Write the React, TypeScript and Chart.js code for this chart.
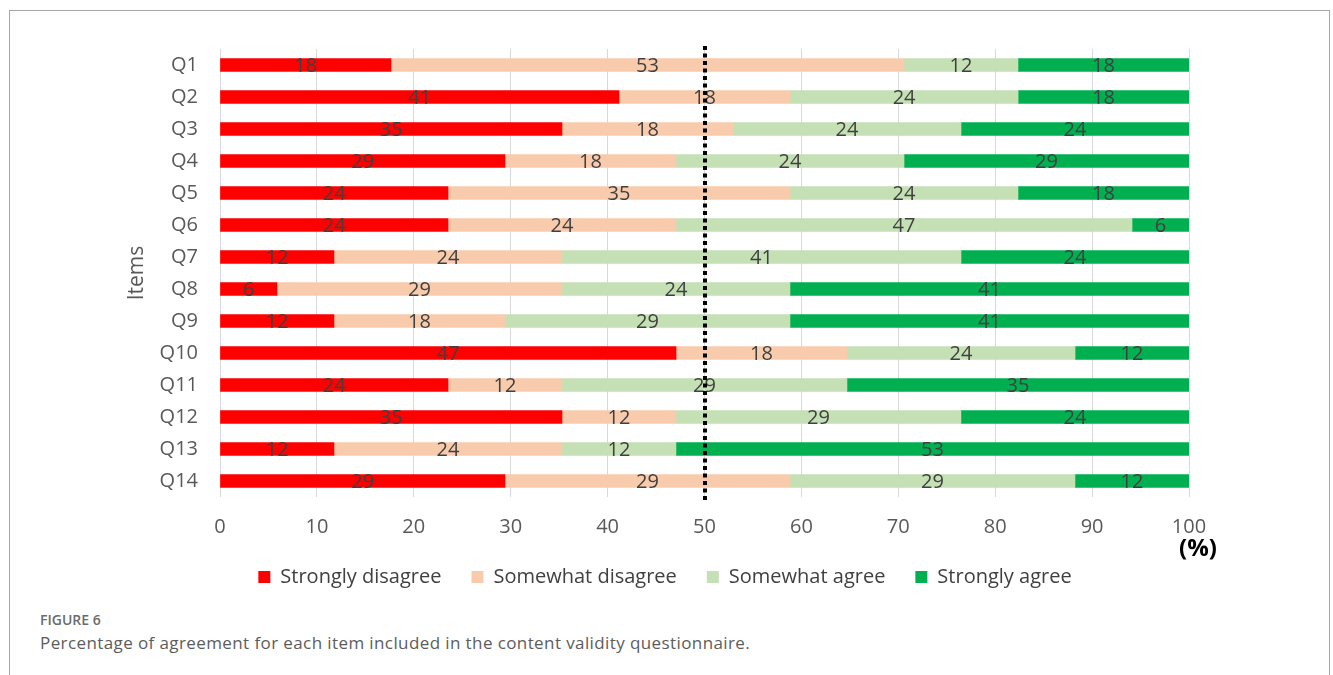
import React, { useEffect, useRef } from "react";
import { Chart, registerables } from "chart.js";

Chart.register(...registerables);

// Questionnaire items (rows, top to bottom)
const items = ["Q1", "Q2", "Q3", "Q4", "Q5", "Q6", "Q7", "Q8", "Q9", "Q10", "Q11", "Q12", "Q13", "Q14"];

// Percentage of raters per answer (17 raters)
const stronglyDisagree = [17.65, 41.18, 35.29, 29.41, 23.53, 23.53, 11.76, 5.88, 11.76, 47.06, 23.53, 35.29, 11.76, 29.41];
const somewhatDisagree = [52.94, 17.65, 17.65, 17.65, 35.29, 23.53, 23.53, 29.41, 17.65, 17.65, 11.76, 11.76, 23.53, 29.41];
const somewhatAgree = [11.76, 23.53, 23.53, 23.53, 23.53, 47.06, 41.18, 23.53, 29.41, 23.53, 29.41, 29.41, 11.76, 29.41];
const stronglyAgree = [17.65, 17.65, 23.53, 29.41, 17.65, 5.88, 23.53, 41.18, 41.18, 11.76, 35.29, 23.53, 52.94, 11.76];

const seriesNames = ["Strongly disagree", "Somewhat disagree", "Somewhat agree", "Strongly agree"];
const seriesColors = ["#FF0000", "#F8CBAD", "#C5E0B4", "#00B050"];

const xMin = 0;
const xMax = 100;
const xStep = 10;
const midValue = 50;

const fontFamily = "'Open Sans', 'Noto Sans', sans-serif";

// Rounded value written in the middle of each segment
const segmentLabels = {
  id: "segmentLabels",
  afterDatasetsDraw(chart: any) {
    const ctx = chart.ctx;
    ctx.save();
    ctx.font = `20px ${fontFamily}`;
    ctx.fillStyle = "#404040";
    ctx.textAlign = "center";
    ctx.textBaseline = "middle";
    chart.data.datasets.forEach((ds: any, di: number) => {
      const meta = chart.getDatasetMeta(di);
      if (meta.hidden) return;
      meta.data.forEach((bar: any, i: number) => {
        const { x, base, y } = bar.getProps(["x", "base", "y"], true);
        const v = ds.data[i];
        ctx.fillText(String(Math.round(v)), (x + base) / 2, y + 1);
      });
    });
    ctx.restore();
  },
};

// Dotted reference line at the midpoint, plus axis captions
const midLineAndCaptions = {
  id: "midLineAndCaptions",
  afterDraw(chart: any) {
    const ctx = chart.ctx;
    const xs = chart.scales.x;
    const area = chart.chartArea;
    const px = Math.round(xs.getPixelForValue(midValue));
    ctx.save();
    ctx.strokeStyle = "#000000";
    ctx.lineWidth = 4;
    ctx.setLineDash([4, 3.5]);
    ctx.beginPath();
    ctx.moveTo(px, area.top - 3);
    ctx.lineTo(px, area.bottom + 4);
    ctx.stroke();
    ctx.restore();

    ctx.save();
    ctx.fillStyle = "#595959";
    ctx.font = `21px ${fontFamily}`;
    ctx.textAlign = "center";
    ctx.textBaseline = "middle";
    ctx.translate(137, (area.top + area.bottom) / 2);
    ctx.rotate(-Math.PI / 2);
    ctx.fillText("Items", 0, 0);
    ctx.restore();

    ctx.save();
    ctx.fillStyle = "#000000";
    ctx.font = `bold 24px ${fontFamily}`;
    ctx.textAlign = "center";
    ctx.textBaseline = "middle";
    ctx.fillText("(%)", xs.getPixelForValue(xMax) + 9, area.bottom + 52);
    ctx.restore();
  },
};

export default function App() {
  const canvasRef = useRef<HTMLCanvasElement | null>(null);

  useEffect(() => {
    const canvas = canvasRef.current;
    if (!canvas) return;
    const values = [stronglyDisagree, somewhatDisagree, somewhatAgree, stronglyAgree];
    const chart = new Chart(canvas, {
      type: "bar",
      data: {
        labels: items,
        datasets: values.map((data, i) => ({
          label: seriesNames[i],
          data,
          backgroundColor: seriesColors[i],
          borderWidth: 0,
          barThickness: 13,
        })),
      },
      options: {
        indexAxis: "y",
        responsive: false,
        animation: false,
        layout: { padding: { top: 49, left: 141, right: 144, bottom: 3 } },
        scales: {
          x: {
            stacked: true,
            min: xMin,
            max: xMax,
            ticks: {
              stepSize: xStep,
              color: "#595959",
              font: { family: fontFamily, size: 20 },
              padding: 18,
            },
            grid: { color: "#D9D9D9", drawTicks: false, lineWidth: 1 },
            border: { display: false },
            afterFit(scale: any) {
              scale.height = 40;
            },
          },
          y: {
            stacked: true,
            ticks: {
              color: "#595959",
              font: { family: fontFamily, size: 20 },
              padding: 22,
            },
            grid: { display: false, drawTicks: false },
            border: { display: false },
            afterFit(scale: any) {
              scale.width = 79;
            },
          },
        },
        plugins: {
          legend: {
            position: "bottom",
            labels: {
              boxWidth: 12,
              boxHeight: 12,
              padding: 30,
              color: "#404040",
              font: { family: fontFamily, size: 20 },
            },
          },
          tooltip: { enabled: false },
        },
      },
      plugins: [segmentLabels, midLineAndCaptions],
    });
    return () => chart.destroy();
  }, []);

  return (
    <div style={{ position: "absolute", left: 0, top: 0, width: 1333, height: 675, background: "#fff", overflow: "hidden" }}>
      <div
        style={{
          position: "absolute",
          left: 9,
          top: 10,
          width: 1321,
          height: 720,
          border: "1px solid #A6A6A6",
          boxSizing: "border-box",
        }}
      />
      <canvas ref={canvasRef} width={1333} height={600} style={{ position: "absolute", left: 0, top: 0, width: 1333, height: 600 }} />
      <div
        style={{
          position: "absolute",
          left: 40,
          top: 611,
          fontFamily: "'Open Sans', sans-serif",
          fontSize: 14,
          fontWeight: 600,
          color: "#6b6b6b",
          lineHeight: "18px",
        }}
      >
        FIGURE 6
      </div>
      <div
        style={{
          position: "absolute",
          left: 40,
          top: 631,
          fontFamily: "'Open Sans', sans-serif",
          fontSize: 17,
          letterSpacing: 0.4,
          color: "#5c5c5c",
          lineHeight: "24px",
          whiteSpace: "nowrap",
        }}
      >
        Percentage of agreement for each item included in the content validity questionnaire.
      </div>
    </div>
  );
}
